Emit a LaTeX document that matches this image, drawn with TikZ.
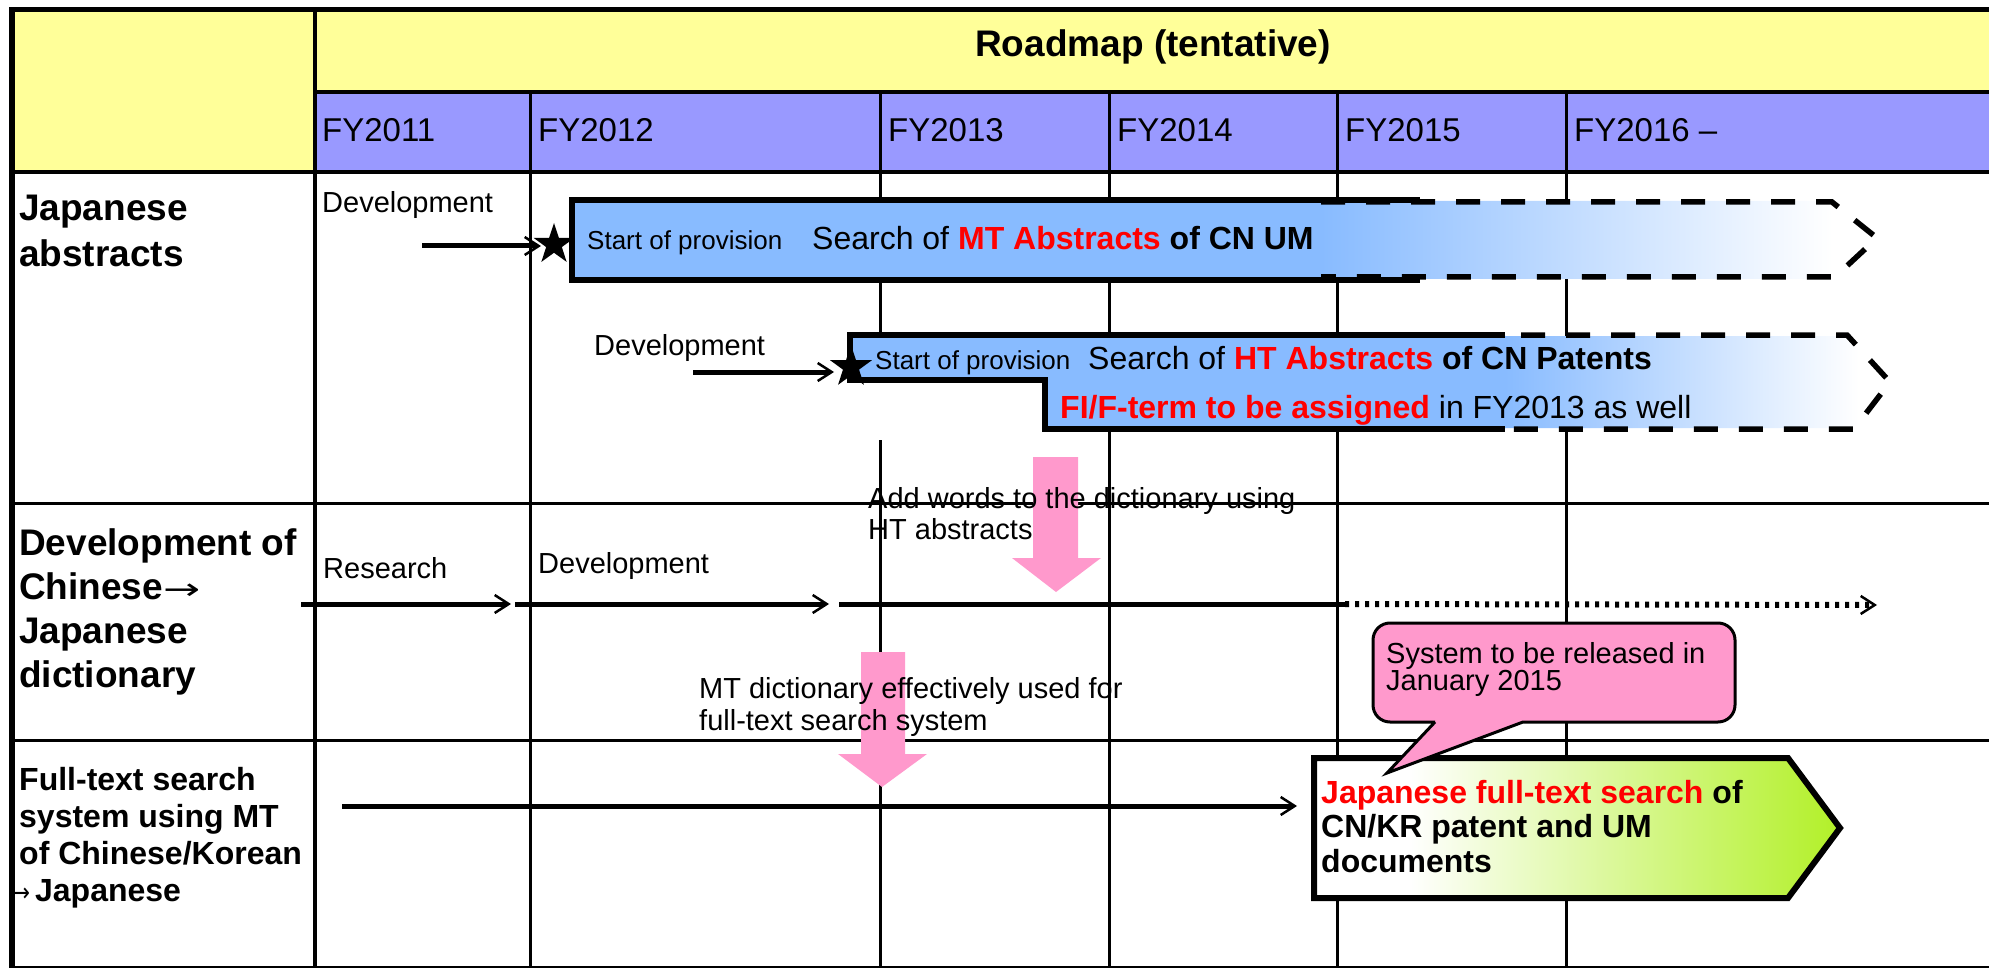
\documentclass[tikz,border=0pt]{standalone}
\usepackage{fontspec}
\setmainfont{Liberation Sans}
\newfontfamily\arrowfont{DejaVu Sans}
\usetikzlibrary{arrows.meta,shapes.geometric}

\definecolor{hdryellow}{RGB}{255,255,153}
\definecolor{hdrviolet}{RGB}{153,153,255}
\definecolor{boxblue}{RGB}{136,187,255}
\definecolor{notepink}{RGB}{255,153,204}
\definecolor{leafgreen}{RGB}{178,240,40}
\definecolor{keyred}{RGB}{255,0,0}

% fades used by the open-ended bars and the result arrow
\pgfdeclarehorizontalshading{bluefade}{100bp}{color(0bp)=(boxblue); color(25bp)=(boxblue); color(71bp)=(white); color(100bp)=(white)}
\pgfdeclarehorizontalshading{greenrise}{100bp}{color(0bp)=(white); color(25bp)=(white); color(34bp)=(white); color(75bp)=(leafgreen); color(100bp)=(leafgreen)}

\newcommand\setfz[2]{\fontsize{#1pt}{#2pt}\selectfont}

\begin{document}
\begin{tikzpicture}[x=1pt,y=-1pt,
  thinrule/.style={line width=3pt},
  midrule/.style={line width=4pt},
  outerrule/.style={line width=5.5pt, line join=miter},
  solidbox/.style={line width=5.5pt, line join=miter},
  dashbox/.style={line width=5.5pt, dash pattern=on 24pt off 21pt},
  flowarrow/.style={line width=5pt, -{Straight Barb[length=14pt,width=18pt,line width=2.5pt]}},
  dotarrow/.style={line width=6pt, dash pattern=on 4pt off 6pt, -{Straight Barb[length=14pt,width=18pt,line width=2.5pt]}},
  pinkarrow/.style={fill=notepink, draw=none},
  lbl/.style={anchor=base west, inner sep=0pt, align=left},
  starnode/.style={star, star points=5, star point ratio=2.6, fill=black, draw=none, inner sep=0pt},
]
\useasboundingbox (0,0) rectangle (1989,968);

% ---------- header fills ----------
\fill[hdryellow] (12,9) rectangle (1989,92);
\fill[hdryellow] (12,92) rectangle (315,172);
\fill[hdrviolet] (315,92) rectangle (1989,172);

% ---------- grid ----------
\foreach \gx in {530,880,1109,1337,1566}
  \draw[thinrule] (\gx,92) -- (\gx,968);
\draw[thinrule] (12,503) -- (1989,503);
\draw[thinrule] (12,740) -- (1989,740);
\draw[thinrule] (12,967) -- (1989,967);
\draw[midrule] (315,92) -- (1989,92);
\draw[midrule] (12,172) -- (1989,172);
\draw[midrule] (315,9) -- (315,968);
\draw[outerrule] (12,968) -- (12,9.5) -- (1989,9.5);

% ---------- header texts ----------
\node[anchor=base, inner sep=0pt, font={\setfz{37}{40}\bfseries}] (title) at (1153,57) {Roadmap (tentative)};
\begin{scope}[every node/.style={lbl, font={\setfz{33}{36}}}]
  \node (fy11) at (322,142) {FY2011};
  \node (fy12) at (538,142) {FY2012};
  \node (fy13) at (888,142) {FY2013};
  \node (fy14) at (1117,142) {FY2014};
  \node (fy15) at (1345,142) {FY2015};
  \node (fy16) at (1574,142) {FY2016 –};
\end{scope}

% ---------- row labels (multi-line nodes sit on their last baseline) ----------
\node[lbl, font={\setfz{37}{46}\bfseries}] (lab1) at (19,267) {Japanese\\abstracts};
\node[lbl, font={\setfz{37}{44}\bfseries}] (lab2) at (19,687)
  {Development of\\Chinese\scalebox{1.2}[0.8]{\mdseries\arrowfont →}\\Japanese\\dictionary};
\node[lbl, font={\setfz{32}{37}\bfseries}] (lab3) at (19,901)
  {Full-text search\\system using MT\\of Chinese/Korean\\\kern-7pt\scalebox{0.67}[0.8]{\mdseries\arrowfont →}\kern5pt Japanese};

% ---------- row 1: MT abstracts bar ----------
\fill[boxblue] (572,200) rectangle (1321,280);
\shade[shading=bluefade] (1321,201) -- (1832,201) -- (1877,238) -- (1835,279) -- (1321,279) -- cycle;
\draw[solidbox] (1420,200) -- (572,200) -- (572,280) -- (1420,280);
\draw[dashbox] (1321,202) -- (1832,202) -- (1877,238) -- (1835,277) -- (1321,277);

% ---------- row 1: HT abstracts bar ----------
\fill[white] (849,335) rectangle (1046,440);
\fill[boxblue] (850,335) -- (1505,335) -- (1505,429) -- (1045,429) -- (1045,380) -- (850,380) -- cycle;
\shade[shading=bluefade] (1505,336) -- (1847,336) -- (1890,382) -- (1854,428) -- (1505,428) -- cycle;
\draw[solidbox] (1505,335) -- (850,335) -- (850,380) -- (1045,380) -- (1045,429) -- (1505,429);
\draw[dashbox] (1476,335) -- (1847,335) -- (1890,382) -- (1854,429) -- (1476,429);

\node[lbl, font={\setfz{29}{33}}] (dev1) at (322,213) {Development};
\node[lbl, font={\setfz{29}{33}}] (dev2) at (594,355) {Development};
\node[lbl, font={\setfz{26}{30}}] (prov1) at (587,250) {Start of provision};
\node[lbl, font={\setfz{32}{36}}] (srch1) at (812,250)
  {Search of \textbf{\color{keyred}MT Abstracts} \textbf{of CN UM}};
\node[lbl, font={\setfz{26}{30}}] (prov2) at (875,369) {Start of provision};
\node[lbl, font={\setfz{32}{36}}] (srch2) at (1088,369)
  {Search of \textbf{\color{keyred}HT Abstracts} \textbf{of CN Patents}};
\node[lbl, font={\setfz{32}{36}}] (fiterm) at (1060,418)
  {\textbf{\color{keyred}FI/F-term to be assigned} in FY2013 as well};

\coordinate (d1a) at (422,246);
\coordinate (d1b) at (541,246);
\draw[flowarrow] (d1a) -- (d1b);
\node[starnode, minimum size=43pt] (star1) at (554,244.5) {};
\coordinate (d2a) at (693,372);
\coordinate (d2b) at (834,372);
\draw[flowarrow] (d2a) -- (d2b);
\node[starnode, minimum size=44pt] (star2) at (851,367) {};

% ---------- pink hand-over arrows ----------
\fill[pinkarrow] (1033,457) -- (1078,457) -- (1078,558) -- (1101,558) -- (1056,592) -- (1012,558) -- (1033,558) -- cycle;
\fill[pinkarrow] (861,652) -- (905,652) -- (905,754) -- (927,754) -- (882,787) -- (838,754) -- (861,754) -- cycle;
\node[lbl, font={\setfz{29}{31}}] (addwords) at (868,539) {Add words to the dictionary using\\HT abstracts};
\node[lbl, font={\setfz{29}{32}}] (mtdict) at (699,730) {MT dictionary effectively used for\\full-text search system};

% ---------- row 2: dictionary timeline ----------
\node[lbl, font={\setfz{29}{33}}] (research) at (323,578) {Research};
\node[lbl, font={\setfz{29}{33}}] (dev3) at (538,573) {Development};
\coordinate (r2a) at (301,604);
\coordinate (r2b) at (511,604);
\coordinate (r2c) at (515,604);
\coordinate (r2d) at (829,604);
\coordinate (r2e) at (839,604);
\coordinate (r2f) at (1345,604);
\coordinate (r2g) at (1877,605);
\draw[flowarrow] (r2a) -- (r2b);
\draw[flowarrow] (r2c) -- (r2d);
\draw[line width=5pt] (r2e) -- (r2f);
\draw[dotarrow] (r2f) -- (r2g);

% ---------- row 3: full-text search ----------
\coordinate (r3a) at (342,806);
\coordinate (r3b) at (1297,806);
\draw[flowarrow] (r3a) -- (r3b);
\shadedraw[shading=greenrise, line width=6pt, line join=miter]
  (1314,758) -- (1788,758) -- (1840,828) -- (1788,898) -- (1314,898) -- cycle;
\node[lbl, font={\setfz{32}{34.5}\bfseries}] (result) at (1321,872)
  {{\color{keyred}Japanese full-text search} of\\CN/KR patent and UM\\documents};

% ---------- release note callout ----------
\draw[fill=notepink, line width=3pt, line join=miter]
  (1435,722) -- (1387,773) -- (1523,722)
  [rounded corners=17pt] -- (1735,722) -- (1735,623) -- (1373,623) -- (1373,722) -- (1435,722);
\node[lbl, font={\setfz{29}{27}}] (release) at (1386,690) {System to be released in\\January 2015};
\end{tikzpicture}
\end{document}
